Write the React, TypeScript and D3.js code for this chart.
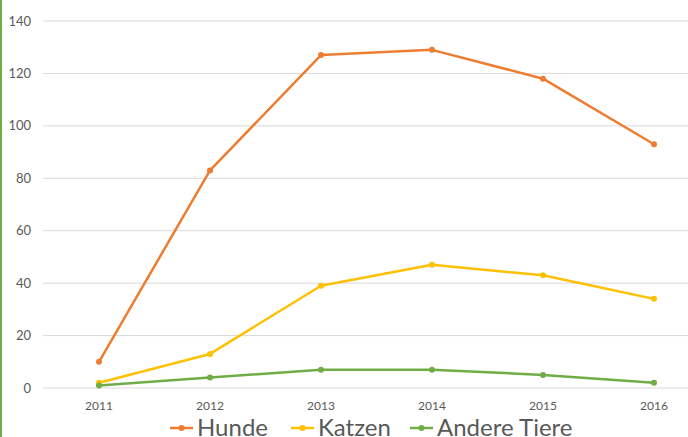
import React, { useRef, useEffect } from 'react';
import * as d3 from 'd3';

const years = ['2011', '2012', '2013', '2014', '2015', '2016'];
const hunde = [10, 83, 127, 129, 118, 93];
const katzen = [2, 13, 39, 47, 43, 34];
const andere = [1, 4, 7, 7, 5, 2];
const yTicks = [0, 20, 40, 60, 80, 100, 120, 140];

const series = [
  { name: 'Hunde', values: hunde, color: '#ED7D31' },
  { name: 'Katzen', values: katzen, color: '#FFC000' },
  { name: 'Andere Tiere', values: andere, color: '#70AD47' },
];

export default function App() {
  const svgEl = useRef<SVGSVGElement>(null);
  const width = 688;
  const height = 437;

  useEffect(() => {
    const svg = d3.select(svgEl.current);
    svg.selectAll('*').remove();

    // left accent bar
    svg.append('rect').attr('x', 0).attr('y', 0).attr('width', 2).attr('height', height).attr('fill', '#70AD47');

    const x = d3.scalePoint<string>().domain(years).range([99, 654]);
    const y = d3.scaleLinear().domain([0, 140]).range([388, 21]);

    // gridlines
    svg.append('g')
      .selectAll('line')
      .data(yTicks)
      .join('line')
      .attr('x1', 43)
      .attr('x2', width)
      .attr('y1', (d) => y(d))
      .attr('y2', (d) => y(d))
      .attr('stroke', '#D9D9D9')
      .attr('stroke-width', 1);

    const font = 'Lato, "Noto Sans", sans-serif';

    svg.append('g')
      .selectAll('text')
      .data(yTicks)
      .join('text')
      .attr('x', 31)
      .attr('y', (d) => y(d))
      .attr('dy', '0.35em')
      .attr('text-anchor', 'end')
      .attr('font-family', font)
      .attr('font-size', 13)
      .attr('fill', '#595959')
      .text((d) => d);

    svg.append('g')
      .selectAll('text')
      .data(years)
      .join('text')
      .attr('x', (d) => x(d)!)
      .attr('y', 410)
      .attr('text-anchor', 'middle')
      .attr('font-family', font)
      .attr('font-size', 12)
      .attr('fill', '#595959')
      .text((d) => d);

    const line = d3
      .line<number>()
      .x((d, i) => x(years[i])!)
      .y((d) => y(d));

    series.forEach((s) => {
      const g = svg.append('g');
      g.append('path')
        .datum(s.values)
        .attr('fill', 'none')
        .attr('stroke', s.color)
        .attr('stroke-width', 2.5)
        .attr('stroke-linejoin', 'round')
        .attr('d', line);
      g.selectAll('circle')
        .data(s.values)
        .join('circle')
        .attr('cx', (d, i) => x(years[i])!)
        .attr('cy', (d) => y(d))
        .attr('r', 3)
        .attr('fill', s.color);
    });

    // legend
    const legendX = [170, 291, 410];
    const legend = svg.append('g');
    series.forEach((s, i) => {
      const lg = legend.append('g').attr('transform', `translate(${legendX[i]}, 428)`);
      lg.append('line').attr('x1', 0).attr('x2', 23).attr('y1', 0).attr('y2', 0)
        .attr('stroke', s.color).attr('stroke-width', 2.5);
      lg.append('circle').attr('cx', 11.5).attr('cy', 0).attr('r', 3).attr('fill', s.color);
      lg.append('text')
        .attr('x', 27)
        .attr('y', 0)
        .attr('dy', '0.35em')
        .attr('font-family', font)
        .attr('font-size', 24)
        .attr('fill', '#595959')
        .text(s.name);
    });
  }, []);

  return (
    <svg
      ref={svgEl}
      width={width}
      height={height}
      style={{ position: 'fixed', top: 0, left: 0, background: '#fff' }}
    ></svg>
  );
}
